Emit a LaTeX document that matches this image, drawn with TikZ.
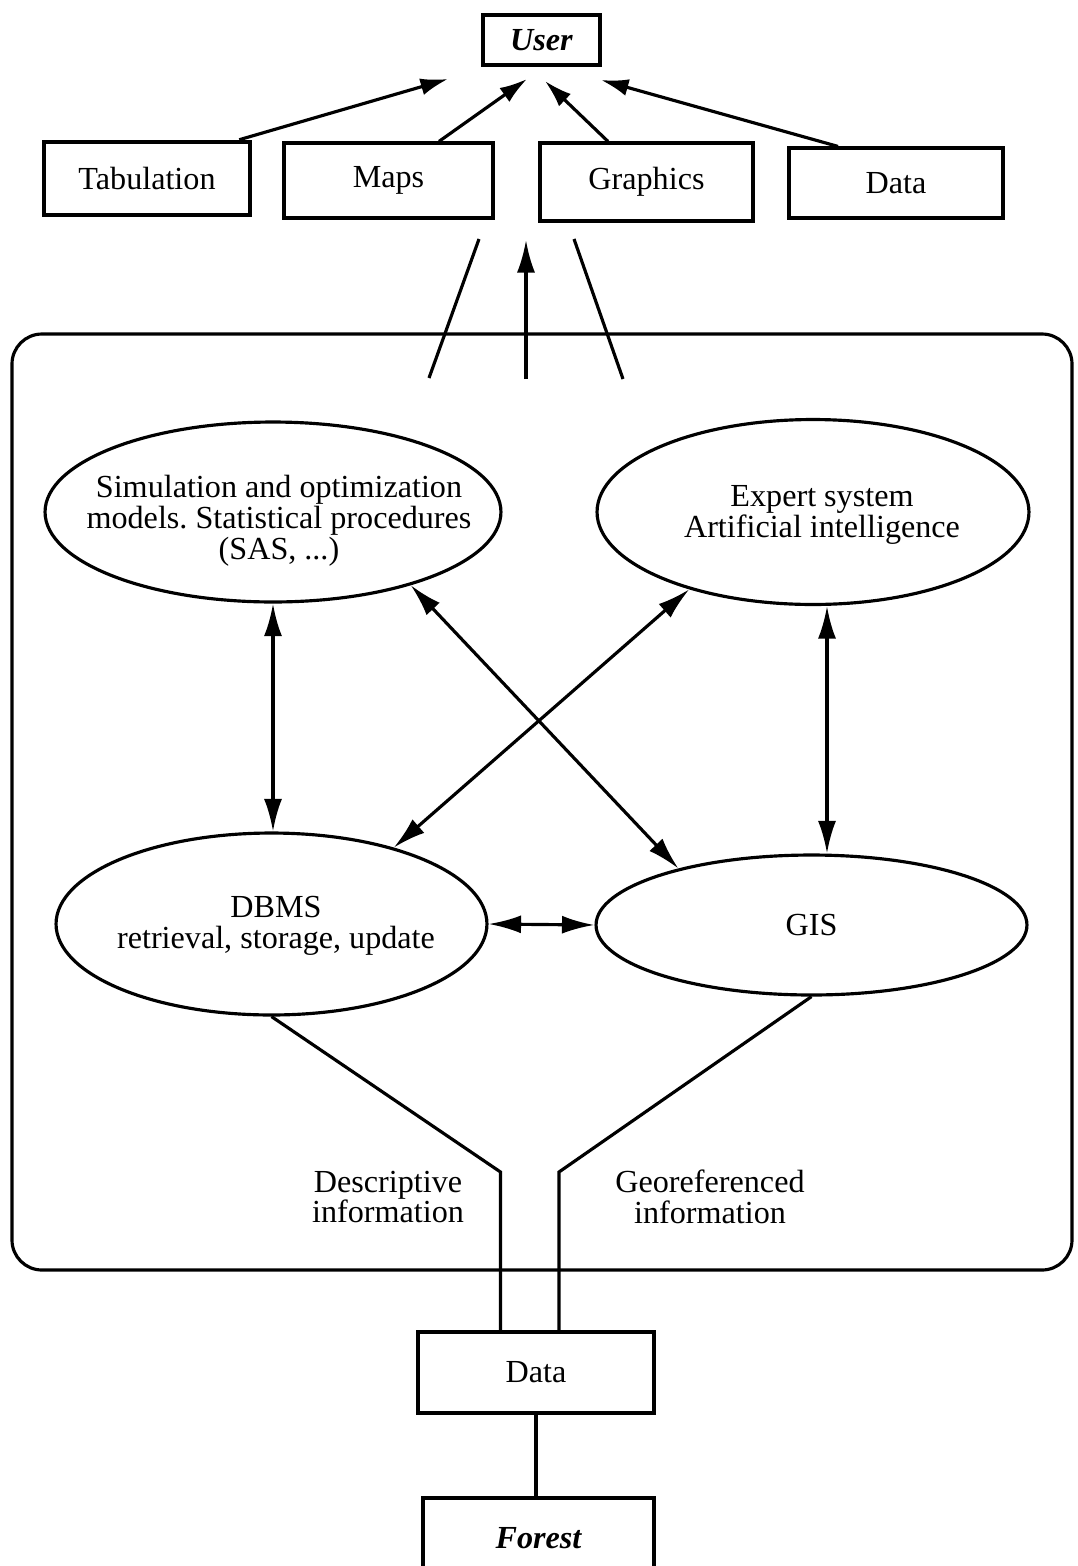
\documentclass[tikz,border=0pt]{standalone}
\usepackage{fontspec}
\setmainfont{Liberation Serif}
\usetikzlibrary{shapes.geometric, arrows.meta, calc, positioning}
\frenchspacing

\tikzset{
  outbox/.style={draw, line width=1.8pt, inner sep=0pt, font=\fontsize{18.3}{17.5}\selectfont},
  bubble/.style={draw, ellipse, line width=1.8pt, inner sep=0pt},
  note/.style={align=center, inner sep=0pt, font=\fontsize{18.3}{17.5}\selectfont},
  link/.style={line width=1.8pt},
}

\begin{document}
\begin{tikzpicture}[x=0.02cm, y=-0.02cm, >={Latex[length=6.5mm,width=3.6mm]}]
 \useasboundingbox (0,0) rectangle (1078,1566);
 \clip (0,0) rectangle (1078,1566);

 % outputs
 \node [outbox, minimum width=2.34cm, minimum height=1cm] (user) at (541.5,40) {\bfseries\itshape User};
 \node [outbox, line width=2.6pt, minimum width=4.12cm, minimum height=1.46cm] (tab) at (147,178.5) {Tabulation};
 \node [outbox, minimum width=4.18cm, minimum height=1.5cm] (maps) at (388.5,180.5) {Maps};
 \node [outbox, minimum width=4.26cm, minimum height=1.56cm] (graph) at (646.5,182) {Graphics};
 \node [outbox, minimum width=4.28cm, minimum height=1.4cm] (dataout) at (896,183) {Data};

 \coordinate (u1) at (448,79);
 \coordinate (u2) at (527,79);
 \coordinate (u3) at (545,81);
 \coordinate (u4) at (601,80);
 \draw [link, -{Latex[length=5.5mm,width=3.4mm]}] ([xshift=-0.26cm]tab.north east) -- (u1);
 \draw [link, -{Latex[length=5.5mm,width=3.4mm]}] ([xshift=1.01cm]maps.north) -- (u2);
 \draw [link, -{Latex[length=5.5mm,width=3.4mm]}] ([xshift=-0.77cm]graph.north) -- (u3);
 \draw [link, -{Latex[length=5.5mm,width=3.4mm]}] ([xshift=-1.16cm]dataout.north) -- (u4);

 % the system
 \draw [link, rounded corners=0.6cm] (12,334) rectangle (1072,1270);

 \coordinate (fanL) at (429,378);  \coordinate (fanLend) at (479,239);
 \coordinate (fanM) at (526,379);  \coordinate (fanMend) at (526,240);
 \coordinate (fanR) at (623,379);  \coordinate (fanRend) at (574,239);
 \draw [link] (fanL) -- (fanLend);
 \draw [link, ->] (fanM) -- (fanMend);
 \draw [link] (fanR) -- (fanRend);

 \node [bubble, minimum width=9.12cm, minimum height=3.6cm,
        label={[note, xshift=0.12cm, yshift=-0.18cm]center:Simulation and optimization\\models. Statistical procedures\\(SAS, ...)}] (sim) at (273,512) {};
 \node [bubble, minimum width=8.64cm, minimum height=3.7cm,
        label={[note, xshift=0.18cm, yshift=-0.06cm]center:Expert system\\Artificial intelligence}] (expert) at (813,512) {};
 \node [bubble, minimum width=8.62cm, minimum height=3.64cm,
        label={[note, xshift=0.09cm, yshift=-0.04cm]center:DBMS\\retrieval, storage, update}] (dbms) at (271.5,924) {};
 \node [bubble, minimum width=8.62cm, minimum height=2.8cm,
        label={[note]center:GIS}] (gis) at (811.5,925) {};

 \draw [link, <->] (sim.south) -- (sim.south |- dbms.north);
 \draw [link, <->] ([xshift=0.28cm]expert.south) -- ([xshift=0.28cm]expert.south |- gis.north);
 \draw [link, <->] (sim.-28) -- (gis.157);
 \draw [link, <->] (expert.-148) -- (dbms.32);
 \draw [link, <->] (dbms.east) -- (gis.west);

 % inputs
 \node [outbox, minimum width=4.72cm, minimum height=1.62cm] (datain) at (536,1372.5) {Data};
 \node [outbox, minimum width=4.62cm, minimum height=1.6cm] (forest) at (538.5,1538) {\bfseries\itshape Forest};

 \coordinate (bendL) at (500.5,1172);
 \coordinate (bendR) at (559,1172);
 \draw [link] (dbms.south) -- (bendL) -- (bendL |- datain.north);
 \draw [link] (gis.south) -- (bendR) -- (bendR |- datain.north);
 \draw [link] (datain.south) -- (datain.south |- forest.north);

 \node [note] (desc) at (388,1197) {Descriptive\\information};
 \node [note] (geo) at (710,1197) {Georeferenced\\information};
\end{tikzpicture}
\end{document}
